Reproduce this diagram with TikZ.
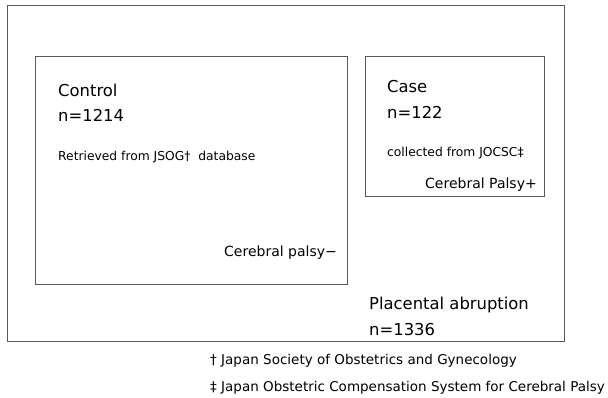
\documentclass[tikz,border=0pt]{standalone}
\usepackage{fontspec}
\setmainfont{DejaVu Sans}
\usepackage{tikz}

\begin{document}
\begin{tikzpicture}[x=1pt, y=-1pt]
\tikzstyle{every node}=[inner sep=0pt, anchor=west, text=black];
\tikzstyle{box}=[draw=black!65, line width=1.4pt, anchor=north west];
\tikzstyle{big}=[font=\fontsize{16.4}{19}\selectfont];
\tikzstyle{mid}=[font=\fontsize{14}{17}\selectfont];
\tikzstyle{small}=[font=\fontsize{12.3}{15}\selectfont];
\tikzstyle{note}=[font=\fontsize{13.5}{16}\selectfont];
\useasboundingbox (0,0) rectangle (608,398);
% boxes
\node[box, minimum width=557pt, minimum height=336pt] (abruption) at (7,5) {};
\node[box, minimum width=312pt, minimum height=228pt] (control) at (35,56) {};
\node[box, minimum width=179pt, minimum height=140pt] (case) at (365,56) {};
% control group
\path (58,90) node[big] (ctitle) {Control};
\path (58,115) node[big] (cn) {n=1214};
\path (58,157) node[small] (csrc) {Retrieved from JSOG\dag\ \ database};
\path (224,253) node[mid] (cpminus) {Cerebral palsy−};
% case group
\path (387,87) node[big] (stitle) {Case};
\path (387,112) node[big] (sn) {n=122};
\path (387,153) node[small] (ssrc) {collected from JOCSC\ddag};
\path (425,185) node[mid] (cpplus) {Cerebral Palsy+};
% all cases
\path (369,305) node[big] (atitle) {Placental abruption};
\path (369,330) node[big] (an) {n=1336};
% footnotes
\path (210,361) node[note] (fn1) {† Japan Society of Obstetrics and Gynecology};
\path (210,388) node[note] (fn2) {‡ Japan Obstetric Compensation System for Cerebral Palsy};
\end{tikzpicture}
\end{document}
